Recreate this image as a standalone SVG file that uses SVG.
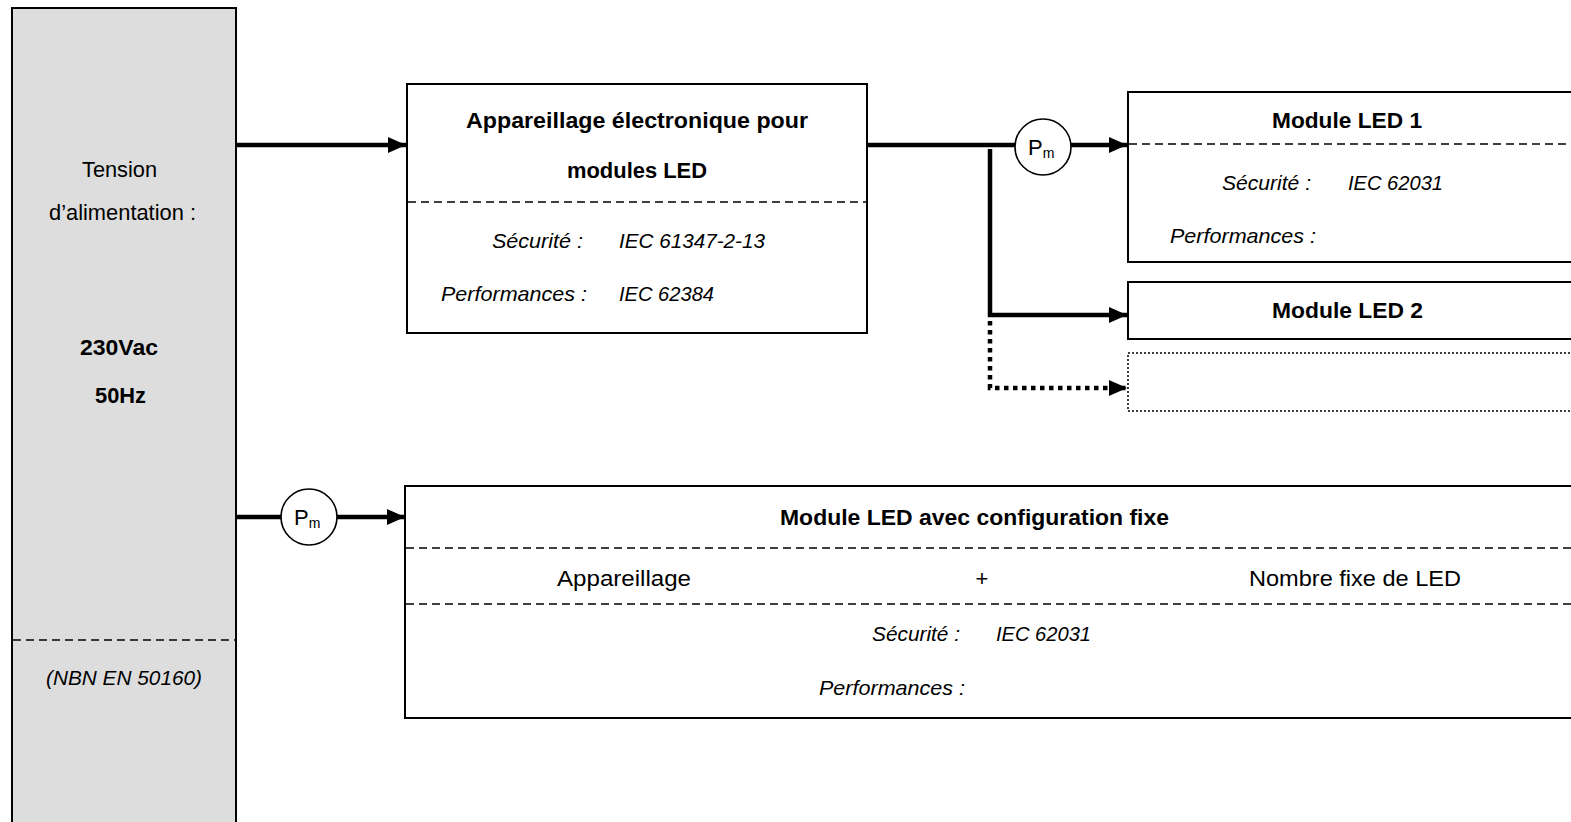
<svg xmlns="http://www.w3.org/2000/svg" width="1571" height="822" viewBox="0 0 1571 822">
<defs>
<marker id="arr" markerUnits="userSpaceOnUse" markerWidth="20" markerHeight="18" refX="18" refY="9" orient="auto">
<path d="M0,1 L18,9 L0,17 Z" fill="#000"/>
</marker>
<style>
.box{fill:#fff;stroke:#000;stroke-width:2}
.src{fill:#dddddd;stroke:#000;stroke-width:2}
.dash{stroke:#000;stroke-width:1.6;stroke-dasharray:8 5;fill:none}
.dotbox{fill:#fff;stroke:#000;stroke-width:1.5;stroke-dasharray:2 2}
.con{stroke:#000;stroke-width:4.5;fill:none}
.dot{stroke:#000;stroke-width:4.5;fill:none;stroke-dasharray:4.5 4.5}
.circ{fill:#fff;stroke:#000;stroke-width:1.6}
text{font-family:"Liberation Sans",Arial,sans-serif;font-size:22px;fill:#000}
.b{font-weight:bold}
.i{font-style:italic;font-size:21px}
</style>
</defs>

<g id="source">
<rect class="src" x="12" y="8" width="224" height="830"/>
<line class="dash" x1="13" y1="640" x2="235" y2="640"/>
<text x="82" y="177" textLength="75" lengthAdjust="spacingAndGlyphs">Tension</text>
<text x="49" y="220" textLength="147" lengthAdjust="spacingAndGlyphs">d’alimentation :</text>
<text class="b" x="80" y="355" textLength="78" lengthAdjust="spacingAndGlyphs">230Vac</text>
<text class="b" x="95" y="403" textLength="51" lengthAdjust="spacingAndGlyphs">50Hz</text>
<text class="i" x="46" y="685" textLength="156" lengthAdjust="spacingAndGlyphs">(NBN EN 50160)</text>
</g>

<g id="appareillage">
<rect class="box" x="407" y="84" width="460" height="249"/>
<line class="dash" x1="408" y1="202" x2="866" y2="202"/>
<text class="b" x="466" y="128" textLength="342" lengthAdjust="spacingAndGlyphs">Appareillage électronique pour</text>
<text class="b" x="567" y="178" textLength="140" lengthAdjust="spacingAndGlyphs">modules LED</text>
<text class="i" x="492" y="248" textLength="91" lengthAdjust="spacingAndGlyphs">Sécurité :</text>
<text class="i" x="619" y="248" textLength="146" lengthAdjust="spacingAndGlyphs">IEC 61347-2-13</text>
<text class="i" x="441" y="301" textLength="146" lengthAdjust="spacingAndGlyphs">Performances :</text>
<text class="i" x="619" y="301" textLength="95" lengthAdjust="spacingAndGlyphs">IEC 62384</text>
</g>

<g id="module1">
<rect class="box" x="1128" y="92" width="480" height="170"/>
<line class="dash" x1="1129" y1="144" x2="1571" y2="144"/>
<text class="b" x="1272" y="128" textLength="150" lengthAdjust="spacingAndGlyphs">Module LED 1</text>
<text class="i" x="1222" y="190" textLength="89" lengthAdjust="spacingAndGlyphs">Sécurité :</text>
<text class="i" x="1348" y="190" textLength="95" lengthAdjust="spacingAndGlyphs">IEC 62031</text>
<text class="i" x="1170" y="243" textLength="146" lengthAdjust="spacingAndGlyphs">Performances :</text>
</g>

<g id="module2">
<rect class="box" x="1128" y="282" width="480" height="57"/>
<text class="b" x="1272" y="318" textLength="151" lengthAdjust="spacingAndGlyphs">Module LED 2</text>
</g>

<g id="moduleN">
<rect class="dotbox" x="1128" y="353" width="480" height="58"/>
</g>

<g id="moduleFixe">
<rect class="box" x="405" y="486" width="1200" height="232"/>
<line class="dash" x1="406" y1="548" x2="1571" y2="548"/>
<line class="dash" x1="406" y1="604" x2="1571" y2="604"/>
<text class="b" x="780" y="525" textLength="389" lengthAdjust="spacingAndGlyphs">Module LED avec configuration fixe</text>
<text x="557" y="586" textLength="134" lengthAdjust="spacingAndGlyphs">Appareillage</text>
<text x="982" y="586" text-anchor="middle">+</text>
<text x="1249" y="586" textLength="212" lengthAdjust="spacingAndGlyphs">Nombre fixe de LED</text>
<text class="i" x="872" y="641" textLength="88" lengthAdjust="spacingAndGlyphs">Sécurité :</text>
<text class="i" x="996" y="641" textLength="95" lengthAdjust="spacingAndGlyphs">IEC 62031</text>
<text class="i" x="819" y="695" textLength="146" lengthAdjust="spacingAndGlyphs">Performances :</text>
</g>

<g id="pm1">
<circle class="circ" cx="1043" cy="147" r="28"/>
<text x="1028" y="155" font-size="21">P<tspan font-size="14" dy="3">m</tspan></text>
</g>

<g id="pm2">
<circle class="circ" cx="309" cy="517" r="28"/>
<text x="294" y="525" font-size="21">P<tspan font-size="14" dy="3">m</tspan></text>
</g>

<g id="connectors">
<line class="con" x1="237" y1="145" x2="406" y2="145" marker-end="url(#arr)"/>
<line class="con" x1="868" y1="145" x2="1015" y2="145"/>
<line class="con" x1="1071" y1="145" x2="1127" y2="145" marker-end="url(#arr)"/>
<polyline class="con" points="990,149 990,315 1127,315" marker-end="url(#arr)"/>
<polyline class="dot" points="990,321 990,388 1127,388" marker-end="url(#arr)"/>
<line class="con" x1="237" y1="517" x2="281" y2="517"/>
<line class="con" x1="337" y1="517" x2="405" y2="517" marker-end="url(#arr)"/>
</g>
</svg>
